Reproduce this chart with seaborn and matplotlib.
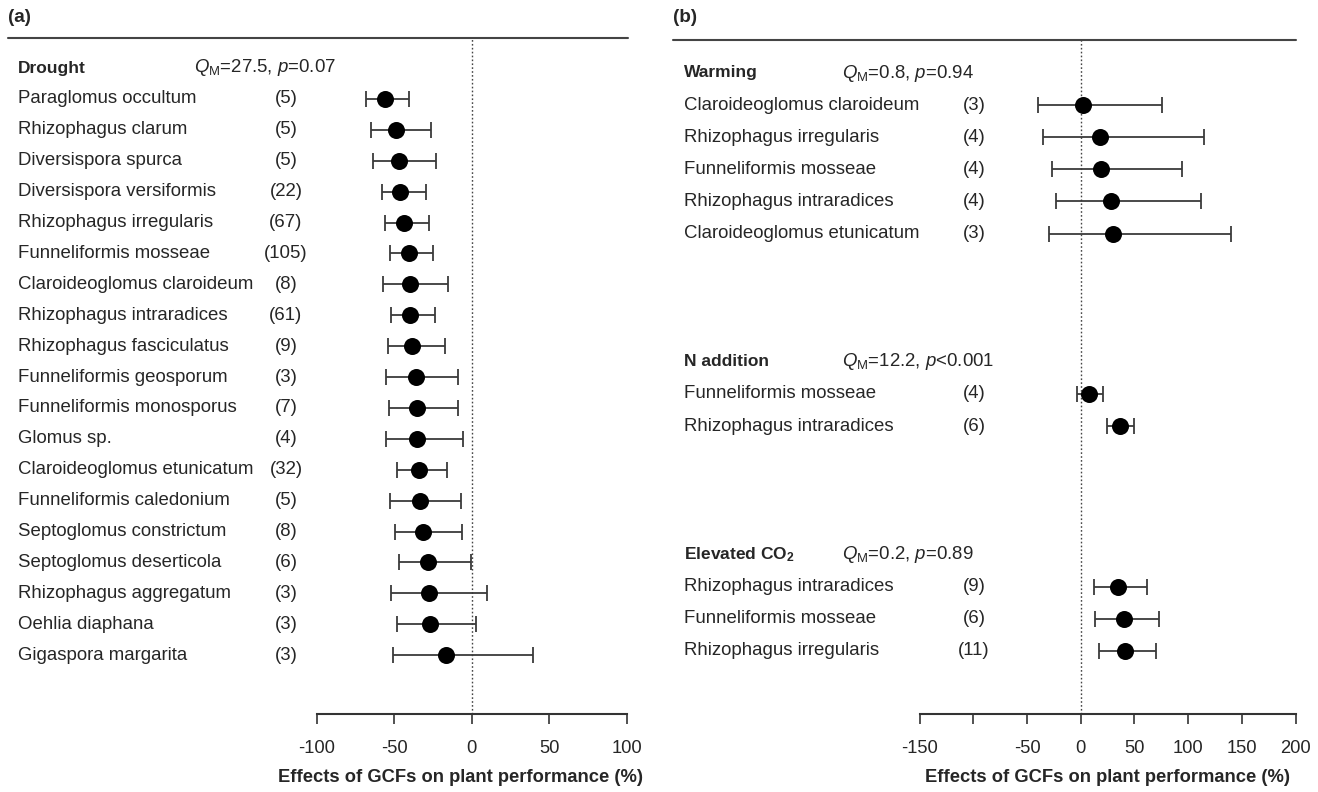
import numpy as np
import pandas as pd
import matplotlib
matplotlib.use("Agg")
import matplotlib.pyplot as plt
import seaborn as sns
from matplotlib.transforms import blended_transform_factory
from matplotlib.lines import Line2D

# ---------------- data ----------------
drought_species = ["Paraglomus occultum", "Rhizophagus clarum", "Diversispora spurca",
                   "Diversispora versiformis", "Rhizophagus irregularis", "Funneliformis mosseae",
                   "Claroideoglomus claroideum", "Rhizophagus intraradices", "Rhizophagus fasciculatus",
                   "Funneliformis geosporum", "Funneliformis monosporus", "Glomus sp.",
                   "Claroideoglomus etunicatum", "Funneliformis caledonium", "Septoglomus constrictum",
                   "Septoglomus deserticola", "Rhizophagus aggregatum", "Oehlia diaphana",
                   "Gigaspora margarita"]
drought_n = [5, 5, 5, 22, 67, 105, 8, 61, 9, 3, 7, 4, 32, 5, 8, 6, 3, 3, 3]
drought_mean = [-56, -49, -47, -46, -43.5, -40.5, -40, -39.5, -38.5, -36, -35.5, -35,
                -34, -33.5, -31.5, -28, -27.5, -27, -16.5]
drought_lo = [-68.5, -65, -64, -58, -56, -52.5, -57, -52, -54, -55, -53.5, -55,
              -48, -52.5, -49.5, -47, -52, -48, -50.5]
drought_hi = [-40.5, -26, -23, -29.5, -27.5, -25, -15, -23.5, -17, -9, -9, -5.5,
              -16, -7, -6.5, -0.5, 10, 3, 39.5]
drought_stat = r"$Q_{\mathrm{M}}$=27.5, $p$=0.07"

warming_species = ["Claroideoglomus claroideum", "Rhizophagus irregularis", "Funneliformis mosseae",
                   "Rhizophagus intraradices", "Claroideoglomus etunicatum"]
warming_n = [3, 4, 4, 4, 3]
warming_mean = [2.5, 18, 19, 28, 30]
warming_lo = [-40, -35, -27, -23, -30]
warming_hi = [76, 115, 94.5, 112, 140]
warming_stat = r"$Q_{\mathrm{M}}$=0.8, $p$=0.94"

nadd_species = ["Funneliformis mosseae", "Rhizophagus intraradices"]
nadd_n = [4, 6]
nadd_mean = [7.5, 37]
nadd_lo = [-3.5, 24]
nadd_hi = [20.5, 50]
nadd_stat = r"$Q_{\mathrm{M}}$=12.2, $p$<0.001"

co2_species = ["Rhizophagus intraradices", "Funneliformis mosseae", "Rhizophagus irregularis"]
co2_n = [9, 6, 11]
co2_mean = [35, 40, 41]
co2_lo = [12, 13, 17]
co2_hi = [62, 73, 70]
co2_stat = r"$Q_{\mathrm{M}}$=0.2, $p$=0.89"

xticks_a = [-100, -50, 0, 50, 100]
xticks_b = [-150, -100, -50, 0, 50, 100, 150, 200]
xticklabels_b = ["-150", "", "-50", "0", "50", "100", "150", "200"]
xlabel = "Effects of GCFs on plant performance (%)"

# ---------------- style ----------------
sns.set_theme(style="white")
plt.rcParams["font.family"] = ["Liberation Sans", "DejaVu Sans"]
plt.rcParams["mathtext.fontset"] = "custom"
plt.rcParams["mathtext.rm"] = "Liberation Sans"
plt.rcParams["mathtext.it"] = "Liberation Sans:italic"
plt.rcParams["mathtext.bf"] = "Liberation Sans:bold"

W, H = 1318, 792
fig = plt.figure(figsize=(W / 100, H / 100), dpi=100)

FS = 13.4
ECOL = "#3a3a3a"
AXCOL = "#333333"


def fx(px):
    return px / W


def make_axes(x0, x1, ytop, ybot):
    return fig.add_axes([fx(x0), 1 - ybot / H, (x1 - x0) / W, (ybot - ytop) / H])


def draw_panel(ax, groups, slot0_px, step_px, ytop_px, ybot_px, name_x, n_x, stat_x,
               line_x0, line_x1, panel_label, xlim, xticks, xticklabels, xlabel_center):
    rows = []
    for g in groups:
        header, hslot, species, ns, means, los, his, stat = g
        for i, sp in enumerate(species):
            rows.append(dict(group=header, species=sp, n=ns[i], mean=means[i],
                             lo=los[i], hi=his[i], slot=hslot + 1 + i))
    df = pd.DataFrame(rows)

    ax.set_xlim(*xlim)
    ax.set_ylim((ybot_px - slot0_px) / step_px, (ytop_px - slot0_px) / step_px)

    # zero reference line
    ax.axvline(0, color="#444444", lw=1.0, ls=(0, (1.2, 1.6)), zorder=1)

    # CIs
    ax.errorbar(df["mean"], df["slot"],
                xerr=[df["mean"] - df["lo"], df["hi"] - df["mean"]],
                fmt="none", ecolor=ECOL, elinewidth=1.3, capsize=5.5, capthick=1.3, zorder=2)
    # points
    sns.scatterplot(data=df, x="mean", y="slot", ax=ax, color="black", s=150,
                    edgecolor="black", linewidth=0, zorder=3, legend=False)

    tr = blended_transform_factory(fig.transFigure, ax.transData)
    for g in groups:
        header, hslot, species, ns, means, los, his, stat = g
        ax.text(fx(name_x), hslot, header, transform=tr, ha="left", va="center",
                fontsize=FS - 0.9, fontweight="bold", clip_on=False)
        ax.text(fx(stat_x), hslot, stat, transform=tr, ha="left", va="center",
                fontsize=FS, clip_on=False)
        for i, sp in enumerate(species):
            ax.text(fx(name_x), hslot + 1 + i, sp, transform=tr, ha="left", va="center",
                    fontsize=FS, clip_on=False)
            ax.text(fx(n_x), hslot + 1 + i, f"({ns[i]})", transform=tr, ha="center",
                    va="center", fontsize=FS, clip_on=False)

    # top rule and panel label
    fig.add_artist(Line2D([fx(line_x0), fx(line_x1)], [1 - ytop_px / H, 1 - ytop_px / H],
                          color="#444444", lw=1.5, transform=fig.transFigure))
    fig.text(fx(line_x0), 1 - 17 / H, panel_label, ha="left", va="center",
             fontsize=FS + 0.2, fontweight="bold")

    # axis styling
    for s in ["left", "top", "right"]:
        ax.spines[s].set_visible(False)
    ax.spines["bottom"].set_color(AXCOL)
    ax.spines["bottom"].set_linewidth(1.5)
    ax.set_yticks([])
    ax.set_ylabel("")
    ax.set_xticks(xticks)
    ax.set_xticklabels(xticklabels)
    ax.tick_params(axis="x", direction="out", length=7.5, width=1.2, color=AXCOL,
                   labelsize=FS - 0.2, pad=11, bottom=True)
    ax.set_xlabel(xlabel, fontsize=FS - 0.2, fontweight="bold", labelpad=9)
    ax.xaxis.label.set_x(xlabel_center)
    ax.patch.set_alpha(0)


# panel (a)
ax_a = make_axes(316.7, 626.7, 38, 714)
groups_a = [("Drought", 0, drought_species, drought_n, drought_mean, drought_lo, drought_hi,
             drought_stat)]
draw_panel(ax_a, groups_a, 68, 30.9, 38, 714, 18, 286, 194, 8, 628, "(a)",
           (-100, 100), xticks_a, [str(t) for t in xticks_a], (461 - 316.7) / 310)

# panel (b)
ax_b = make_axes(919.7, 1295.5, 40, 714)
groups_b = [("Warming", 0, warming_species, warming_n, warming_mean, warming_lo, warming_hi,
             warming_stat),
            ("N addition", 9, nadd_species, nadd_n, nadd_mean, nadd_lo, nadd_hi, nadd_stat),
            (r"Elevated CO$_\mathbf{2}$", 15, co2_species, co2_n, co2_mean, co2_lo, co2_hi,
             co2_stat)]
draw_panel(ax_b, groups_b, 73, 32.1, 40, 714, 684, 974, 842, 673, 1296, "(b)",
           (-150, 200), xticks_b, xticklabels_b, 0.5)

fig.savefig("out.png", dpi=100, facecolor="white")
